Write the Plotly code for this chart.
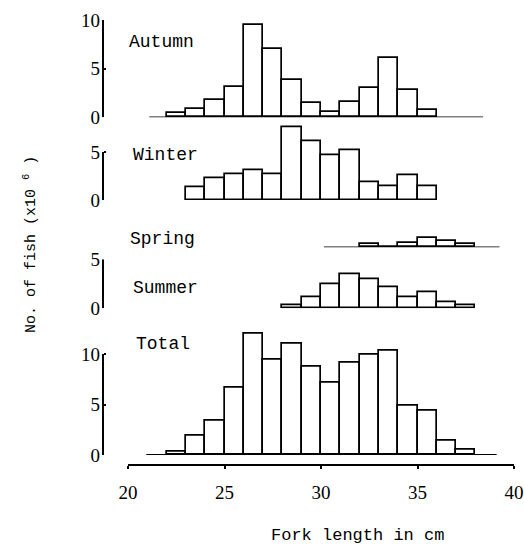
import plotly.graph_objects as go

# ---- data (fork length bins: left edges in cm, counts x10^6) ----
autumn_bins = [22, 23, 24, 25, 26, 27, 28, 29, 30, 31, 32, 33, 34, 35]
autumn_vals = [0.4, 0.9, 1.8, 3.1, 9.5, 7.0, 3.8, 1.5, 0.5, 1.6, 3.0, 6.1, 2.8, 0.8]

winter_bins = [23, 24, 25, 26, 27, 28, 29, 30, 31, 32, 33, 34, 35]
winter_vals = [1.3, 2.3, 2.7, 3.1, 2.7, 7.6, 6.1, 4.7, 5.2, 1.9, 1.4, 2.6, 1.4]

spring_bins = [32, 33, 34, 35, 36, 37]
spring_vals = [0.3, 0.0, 0.5, 1.0, 0.7, 0.3]

summer_bins = [28, 29, 30, 31, 32, 33, 34, 35, 36, 37]
summer_vals = [0.3, 1.1, 2.4, 3.5, 3.0, 2.1, 1.1, 1.6, 0.6, 0.3]

total_bins = [22, 23, 24, 25, 26, 27, 28, 29, 30, 31, 32, 33, 34, 35, 36, 37]
total_vals = [0.3, 1.9, 3.4, 6.7, 12.0, 9.4, 11.0, 8.7, 7.2, 9.1, 9.9, 10.3, 4.9, 4.4, 1.4, 0.5]

# baseline extents (cm) drawn under some panels
autumn_base = [21.1, 38.4]
spring_base = [30.15, 39.25]
total_base = [20.95, 39.1]

x_ticks = [20, 25, 30, 35, 40]

W, H = 524, 545
FONT_LBL = "Liberation Mono"
FONT_NUM = "Liberation Serif"

def py(px):
    return 1 - px / H

def pxx(px):
    return px / W

xdom = [pxx(128), pxx(514)]
yaxis_pos = pxx(103)

panels = [
    # name, bins, vals, yrange, y0px, y1px, ticks, axis top value, baseline
    ("Autumn", autumn_bins, autumn_vals, [0, 10], 117.3, 20.0, [0, 5, 10], 10, autumn_base),
    ("Winter", winter_bins, winter_vals, [0, 8], 200.0, 123.2, [0, 5], 5, None),
    ("Spring", spring_bins, spring_vals, [0, 2], 247.3, 227.9, None, None, spring_base),
    ("Summer", summer_bins, summer_vals, [0, 5], 308.3, 259.3, [0, 5], 5, None),
    ("Total", total_bins, total_vals, [0, 12.5], 455.0, 328.75, [0, 5, 10], 10, total_base),
]

label_pos = {
    "Autumn": (127, 42),
    "Winter": (131, 155),
    "Spring": (128, 239),
    "Summer": (131, 288),
    "Total": (134, 344),
}

fig = go.Figure()
layout = {}
shapes = []
annotations = []

for i, (name, bins, vals, yr, y0px, y1px, ticks, ytop, base) in enumerate(panels):
    k = "" if i == 0 else str(i + 1)
    xa, ya = "x" + k, "y" + k
    if base is not None:
        fig.add_trace(go.Scatter(
            x=base, y=[0, 0], mode="lines", xaxis=xa, yaxis=ya,
            line=dict(color="black", width=1.8), hoverinfo="skip", showlegend=False))
    fig.add_trace(go.Bar(
        x=[b + 0.5 for b in bins], y=vals, width=1.0, xaxis=xa, yaxis=ya,
        marker=dict(color="white", line=dict(color="black", width=1.7)),
        showlegend=False))
    layout["xaxis" + k] = dict(
        domain=xdom, range=[20, 40], anchor=ya, visible=False, fixedrange=True)
    yax = dict(
        domain=[py(y0px), py(y1px)], range=yr, anchor="free", position=yaxis_pos,
        showgrid=False, zeroline=False, showline=False, fixedrange=True)
    if ticks is None:
        yax["visible"] = False
    else:
        yax.update(tickvals=ticks, ticktext=[str(t) for t in ticks],
                   ticks="inside", ticklen=2, tickwidth=1.5, tickcolor="black",
                   ticklabelstandoff=3,
                   tickfont=dict(family=FONT_NUM, size=19, color="black"))
        shapes.append(dict(type="line", xref="paper", yref=ya,
                           x0=yaxis_pos, x1=yaxis_pos, y0=0, y1=ytop,
                           line=dict(color="black", width=2)))
    layout["yaxis" + k] = yax
    lx, ly = label_pos[name]
    annotations.append(dict(text=name, xref="paper", yref="paper",
                            x=pxx(lx), y=py(ly), xanchor="left", yanchor="middle",
                            showarrow=False,
                            font=dict(family=FONT_LBL, size=18, color="black")))

# bottom fork-length axis (attached to the Total panel's x axis)
layout["xaxis5"].update(
    visible=True, anchor="free", position=py(465), showline=True,
    linecolor="black", linewidth=2, showgrid=False, zeroline=False,
    tickvals=x_ticks, ticktext=[str(t) for t in x_ticks],
    ticks="outside", ticklen=3, tickwidth=1.5, tickcolor="black",
    ticklabelstandoff=7,
    tickfont=dict(family=FONT_NUM, size=19, color="black"))

annotations.append(dict(text="Fork length in cm", xref="paper", yref="paper",
                        x=pxx(357), y=py(535), xanchor="center", yanchor="middle",
                        showarrow=False,
                        font=dict(family=FONT_LBL, size=17, color="black")))
annotations.append(dict(text="No. of fish (x10 <sup>6</sup> )", xref="paper", yref="paper",
                        x=pxx(30), y=py(245), xanchor="center", yanchor="middle",
                        textangle=-90, showarrow=False,
                        font=dict(family=FONT_LBL, size=15, color="black")))

fig.update_layout(
    width=W, height=H, margin=dict(l=0, r=0, t=0, b=0, autoexpand=False),
    paper_bgcolor="white", plot_bgcolor="white",
    barmode="overlay", bargap=0,
    shapes=shapes, annotations=annotations, showlegend=False,
    **layout)

fig.write_html("out.html", config={"displayModeBar": False},
               post_script="document.body.style.margin='0';document.body.style.padding='0';")
